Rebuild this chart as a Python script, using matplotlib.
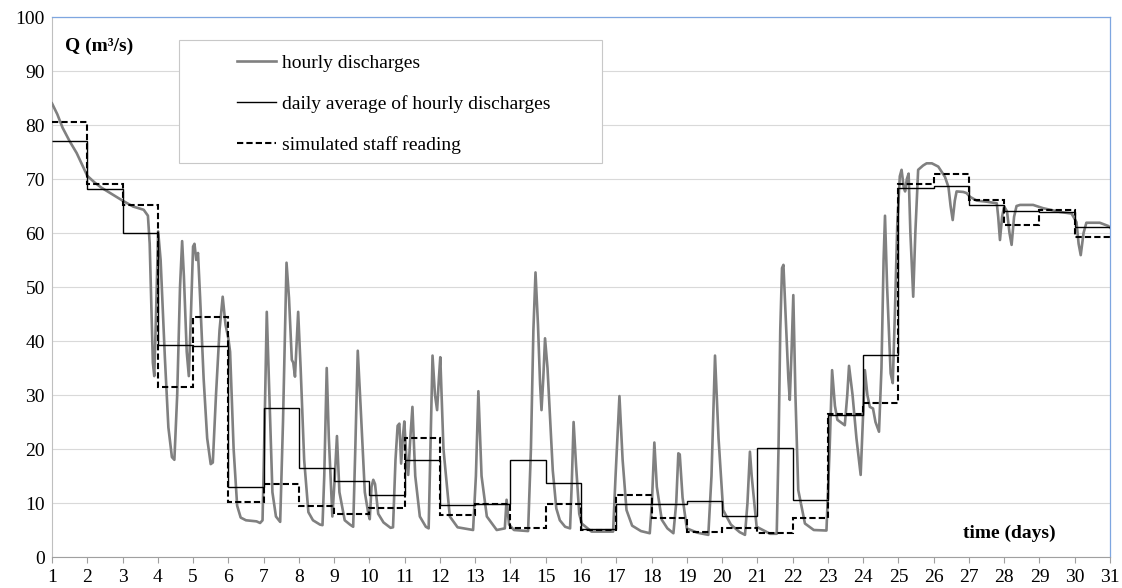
import numpy as np
import matplotlib
matplotlib.use('Agg')
import matplotlib.pyplot as plt
from matplotlib.patches import Rectangle

plt.rcParams['font.family'] = ['Liberation Serif', 'DejaVu Serif']

# hourly discharge curve, vertices (day, m3/s)
hour_day = [1.00, 1.15, 1.30, 1.50, 1.70, 1.90, 2.00, 2.20, 2.40, 2.70, 3.00, 3.30, 3.60, 3.72, 3.77, 3.81, 3.86, 3.90, 3.95,
            4.01, 4.08, 4.20, 4.30, 4.40, 4.47, 4.55, 4.63, 4.69, 4.74, 4.82, 4.88, 4.94, 5.00, 5.04, 5.09, 5.14, 5.20,
            5.30, 5.40, 5.50, 5.56, 5.65, 5.75, 5.84, 5.92, 6.00, 6.05, 6.15, 6.25, 6.35, 6.50, 6.80, 6.90, 6.97, 7.03,
            7.09, 7.15, 7.25, 7.35, 7.47, 7.55, 7.65, 7.72, 7.80, 7.84, 7.89, 7.94, 7.98, 8.05, 8.15, 8.27, 8.40, 8.60,
            8.67, 8.72, 8.79, 8.85, 8.95, 9.02, 9.08, 9.15, 9.30, 9.45, 9.54, 9.60, 9.67, 9.75, 9.87, 9.97, 10.01, 10.06,
            10.11, 10.16, 10.25, 10.40, 10.60, 10.67, 10.74, 10.80, 10.85, 10.90, 10.96, 10.99, 11.05, 11.10, 11.16,
            11.22, 11.30, 11.43, 11.60, 11.68, 11.73, 11.79, 11.86, 11.92, 11.97, 12.01, 12.10, 12.28, 12.50, 12.94,
            13.02, 13.09, 13.18, 13.33, 13.61, 13.84, 13.89, 13.96, 14.10, 14.50, 14.58, 14.65, 14.71, 14.78, 14.84,
            14.88, 14.93, 14.98, 15.05, 15.20, 15.30, 15.40, 15.55, 15.69, 15.74, 15.79, 15.86, 15.95, 16.02, 16.30,
            16.91, 16.98, 17.09, 17.18, 17.29, 17.45, 17.70, 17.95, 18.01, 18.08, 18.15, 18.29, 18.45, 18.62, 18.70,
            18.76, 18.80, 18.88, 19.00, 19.30, 19.61, 19.70, 19.80, 19.90, 20.03, 20.25, 20.50, 20.65, 20.72, 20.79,
            20.84, 20.98, 21.36, 21.55, 21.60, 21.65, 21.70, 21.74, 21.80, 21.88, 21.92, 21.97, 22.02, 22.08, 22.16,
            22.35, 22.60, 22.96, 23.05, 23.12, 23.20, 23.27, 23.48, 23.55, 23.60, 23.70, 23.81, 23.93, 23.99, 24.05,
            24.12, 24.19, 24.28, 24.35, 24.45, 24.52, 24.58, 24.62, 24.68, 24.78, 24.84, 24.90, 24.97, 25.04, 25.09,
            25.15, 25.19, 25.24, 25.29, 25.34, 25.42, 25.48, 25.56, 25.70, 25.80, 25.95, 26.13, 26.32, 26.42, 26.48,
            26.54, 26.60, 26.65, 26.84, 26.93, 27.03, 27.22, 27.50, 27.79, 27.83, 27.88, 27.94, 28.00, 28.08, 28.15,
            28.21, 28.28, 28.35, 28.45, 28.82, 29.10, 29.58, 29.91, 30.05, 30.11, 30.17, 30.25, 30.33, 30.71, 30.95,
            31.00]
hour_q = [84.0, 82.0, 79.5, 77.0, 74.8, 72.0, 70.6, 69.4, 68.4, 67.2, 66.0, 64.9, 64.3, 63.2, 58.0, 48.0, 36.0, 33.5, 45.0,
          60.3, 55.0, 37.0, 24.0, 18.5, 18.0, 30.0, 50.0, 58.5, 52.0, 38.0, 33.5, 45.0, 57.5, 58.0, 55.0, 56.3, 48.0,
          33.0, 22.0, 17.2, 17.5, 30.0, 42.0, 48.2, 43.0, 40.5, 38.0, 20.0, 9.5, 7.3, 6.8, 6.6, 6.3, 6.8, 25.0,
          45.4, 33.0, 12.0, 7.5, 6.5, 25.0, 54.5, 48.0, 36.5, 36.0, 33.4, 40.0, 45.4, 35.0, 18.0, 8.3, 6.8, 6.0,
          5.9, 15.0, 35.0, 22.0, 7.5, 15.0, 22.4, 12.0, 6.8, 6.0, 5.6, 20.0, 38.2, 28.0, 12.0, 8.0, 7.0, 13.0,
          14.3, 13.5, 8.0, 6.4, 5.4, 5.5, 18.0, 24.3, 24.7, 17.3, 23.0, 25.1, 18.0, 15.2, 22.0,
          27.8, 15.0, 7.5, 5.6, 5.3, 20.0, 37.3, 30.0, 27.2, 33.0, 37.0, 20.0, 7.5, 5.5, 5.0,
          15.0, 30.7, 15.0, 7.5, 5.0, 5.3, 10.6, 6.0, 5.0, 4.8, 20.0, 42.0, 52.7, 43.0, 32.0,
          27.2, 33.0, 40.5, 35.0, 16.0, 9.0, 6.8, 5.6, 5.3, 14.0, 25.0, 17.0, 8.0, 6.2, 4.7,
          4.7, 15.0, 29.8, 18.0, 8.7, 5.8, 4.8, 4.4, 10.0, 21.2, 13.0, 6.9, 5.3, 4.4, 10.0,
          19.2, 19.0, 11.0, 5.3, 4.5, 4.1, 15.0, 37.3, 22.0, 8.7, 6.0, 4.6, 4.1, 10.0, 19.5,
          15.0, 5.6, 4.3, 4.3, 20.0, 42.0, 53.5, 54.1, 45.0, 33.0, 29.1, 38.0, 48.5, 30.0, 12.4,
          6.2, 5.0, 4.9, 20.0, 34.6, 28.0, 25.4, 24.4, 30.0, 35.4, 30.0, 22.0, 15.2, 25.0, 34.6,
          30.0, 27.8, 27.5, 25.0, 23.2, 35.0, 55.0, 63.2, 50.0, 34.0, 32.2, 45.0, 62.0, 70.5, 71.7,
          68.5, 67.7, 70.0, 71.0, 60.0, 48.2, 60.0, 71.7, 72.5, 72.9, 72.9, 72.3, 70.4, 68.5, 65.0,
          62.4, 66.0, 67.7, 67.6, 67.4, 66.7, 66.0, 65.8, 65.5, 63.0, 58.7, 63.0, 64.9, 64.0, 60.0,
          57.8, 63.0, 65.0, 65.2, 65.2, 64.6, 63.9, 63.6, 62.0, 58.0, 55.9, 60.0, 61.9, 61.9, 61.3,
          61.0]

# one value per day, day 1 .. day 30
day_edges = np.arange(1, 32)
daily_avg = [77.0, 68.2, 60.0, 39.3, 39.0, 13.0, 27.6, 16.4, 14.0, 11.5,
             17.9, 9.6, 9.9, 18.0, 13.7, 5.2, 9.9, 9.8, 10.4, 7.6,
             20.2, 10.5, 26.3, 37.5, 68.3, 68.7, 65.1, 64.1, 63.9, 61.2]
staff = [80.5, 69.0, 65.2, 31.5, 44.5, 10.2, 13.5, 9.4, 7.9, 9.1,
         22.1, 7.8, 9.9, 5.3, 9.8, 5.0, 11.5, 7.3, 4.6, 5.4,
         4.5, 7.2, 26.5, 28.5, 69.0, 70.9, 66.1, 61.4, 64.2, 59.2]

fig = plt.figure(figsize=(11.22, 5.88), dpi=100)
ax = fig.add_axes([52/1122, 1-557/588, 1058/1122, 540/588])

ax.plot(hour_day, hour_q, color='#808080', lw=1.9, label='hourly discharges', zorder=3)
ax.stairs(daily_avg, day_edges, baseline=None, color='black', lw=1.0,
          label='daily average of hourly discharges', zorder=4)
ax.stairs(staff, day_edges, baseline=None, color='black', lw=1.5, linestyle=(0, (3, 1.5)),
          label='simulated staff reading', zorder=5)

ax.set_xlim(1, 31)
ax.set_ylim(0, 100)
ax.set_xticks(range(1, 32))
ax.set_yticks(range(0, 101, 10))
ax.grid(axis='y', color='#D9D9D9', lw=0.8)
ax.set_axisbelow(True)
ax.tick_params(axis='x', direction='out', length=4, width=0.8, color='#A0A0A0', labelsize=14, pad=5)
ax.tick_params(axis='y', length=0, labelsize=14, pad=5)

for s in ['top', 'right']:
    ax.spines[s].set_color('#7EA6E0')
    ax.spines[s].set_linewidth(0.9)
ax.spines['left'].set_color('#BFBFBF')
ax.spines['bottom'].set_color('#A0A0A0')
ax.spines['left'].set_linewidth(0.8)
ax.spines['bottom'].set_linewidth(0.8)

ax.text(0.012, 0.946, 'Q (m³/s)', transform=ax.transAxes, fontsize=14, fontweight='bold', va='center', ha='left')
ax.text(0.949, 0.043, 'time (days)', transform=ax.transAxes, fontsize=14, fontweight='bold', va='center', ha='right')

# legend box
ax.add_patch(Rectangle((0.120, 0.730), 0.400, 0.227, transform=ax.transAxes,
                       facecolor='white', edgecolor='#C8C8C8', lw=0.8, zorder=6))
leg = ax.legend(loc='center left', bbox_to_anchor=(0.175, 0.839), frameon=False, fontsize=14,
                borderpad=0, borderaxespad=0, handlelength=2.0, handletextpad=0.3, labelspacing=1.18)
leg.set_zorder(7)

fig.savefig('out.png', dpi=100)
